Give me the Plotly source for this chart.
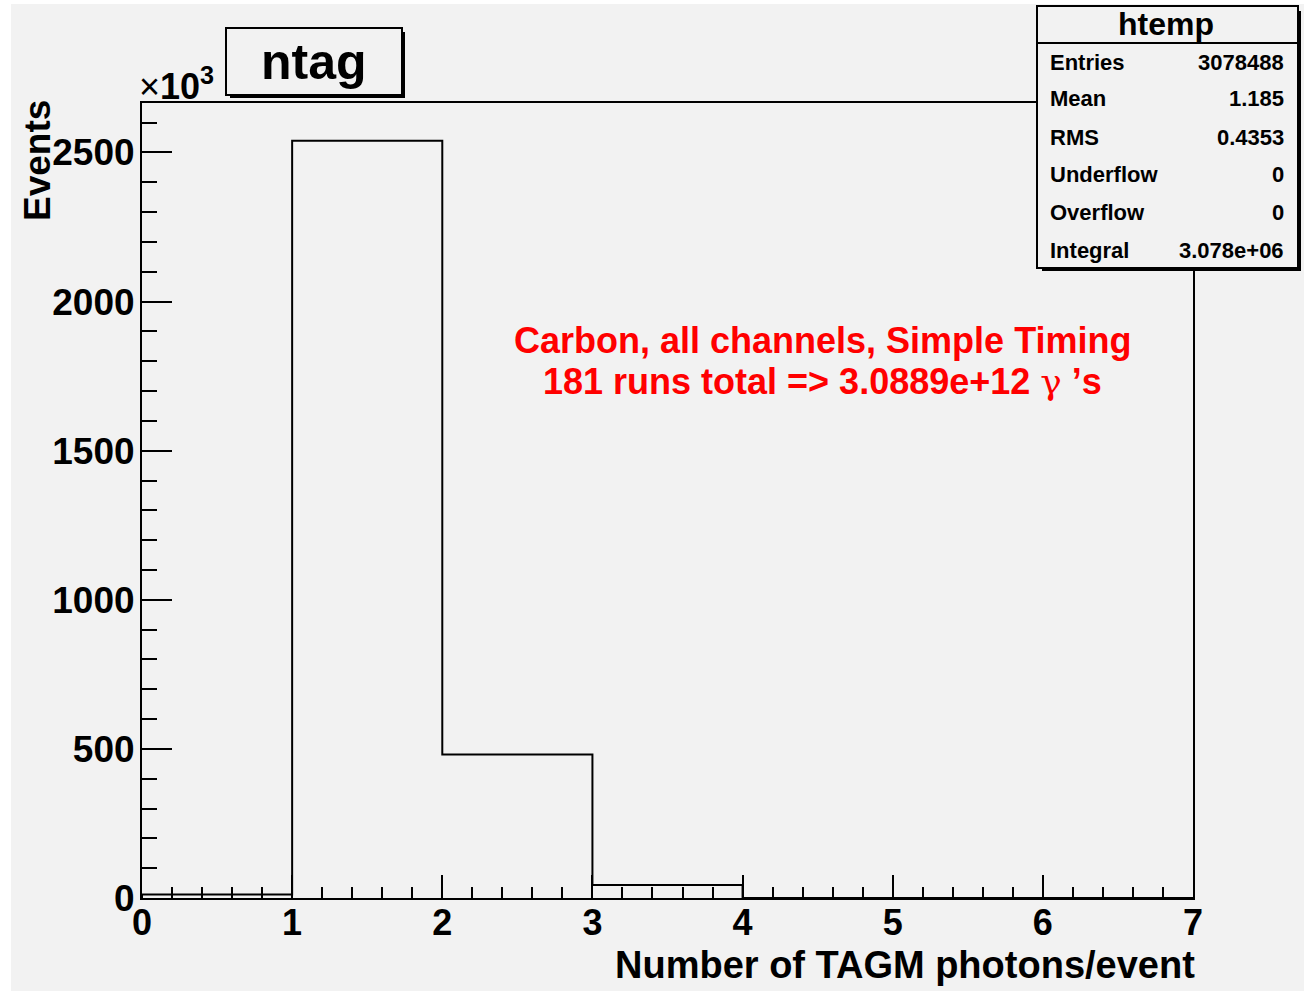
import plotly.graph_objects as go

# ---- data ----
bin_edges = [0, 1, 2, 3, 4, 5, 6, 7]
counts = [12000, 2539000, 481000, 44000, 300, 50, 0]
y_tickvals = [0, 500000, 1000000, 1500000, 2000000, 2500000]
y_ticktext = ["0", "500", "1000", "1500", "2000", "2500"]
x_tickvals = [0, 1, 2, 3, 4, 5, 6, 7]
stats_labels = ["Entries", "Mean", "RMS", "Underflow", "Overflow", "Integral"]
stats_values = ["3078488", "1.185", "0.4353", "0", "0", "3.078e+06"]

W, H = 1304, 992
L, R, T, B = 142, 1193, 103, 898  # plot area in px
PW, PH = R - L, B - T


def px(x):
    return (x - L) / PW


def py(y):
    return (B - y) / PH


FONT = "Liberation Sans, Arial, sans-serif"
BG = "#f2f2f2"

fig = go.Figure()
xs = [bin_edges[0]] + bin_edges
ys = [0] + counts + [counts[-1]]
fig.add_trace(go.Scatter(x=xs, y=ys, mode="lines", line=dict(color="black", width=2, shape="hv"),
                         hoverinfo="skip", showlegend=False))

ymax = 1.05 * max(counts)

shapes = []
# white strips at canvas edges
for x0, y0, x1, y1 in [(0, 0, 11, 992), (0, 0, 1304, 4), (0, 991, 1304, 992)]:
    shapes.append(dict(type="rect", xref="paper", yref="paper", x0=px(x0), x1=px(x1), y0=py(y0), y1=py(y1),
                       fillcolor="white", line=dict(width=0), layer="above"))
# title box (shadow + box)
shapes.append(dict(type="rect", xref="paper", yref="paper", x0=px(230), x1=px(405), y0=py(32), y1=py(98),
                   fillcolor="black", line=dict(width=0), layer="above"))
shapes.append(dict(type="rect", xref="paper", yref="paper", x0=px(226), x1=px(402), y0=py(28), y1=py(95),
                   fillcolor=BG, line=dict(color="black", width=2), layer="above"))
# stats box
shapes.append(dict(type="rect", xref="paper", yref="paper", x0=px(1042), x1=px(1301), y0=py(11), y1=py(271),
                   fillcolor="black", line=dict(width=0), layer="above"))
shapes.append(dict(type="rect", xref="paper", yref="paper", x0=px(1037), x1=px(1298), y0=py(6), y1=py(268),
                   fillcolor=BG, line=dict(color="black", width=2), layer="above"))
shapes.append(dict(type="line", xref="paper", yref="paper", x0=px(1037), x1=px(1298), y0=py(43), y1=py(43),
                   line=dict(color="black", width=2), layer="above"))

ann = []
ann.append(dict(x=px(314), y=py(62), xref="paper", yref="paper", text="<b>ntag</b>", showarrow=False,
                font=dict(family=FONT, size=50, color="black"), xanchor="center", yanchor="middle"))
ann.append(dict(x=px(1166), y=py(24), xref="paper", yref="paper", text="<b>htemp</b>", showarrow=False,
                font=dict(family=FONT, size=32, color="black"), xanchor="center", yanchor="middle"))
row_y = [62, 98, 137, 174, 213, 251]
for lab, val, yy in zip(stats_labels, stats_values, row_y):
    ann.append(dict(x=px(1048), y=py(yy), xref="paper", yref="paper", text="<b>%s</b>" % lab, showarrow=False,
                    font=dict(family=FONT, size=22, color="black"), xanchor="left", yanchor="middle"))
    ann.append(dict(x=px(1286), y=py(yy), xref="paper", yref="paper", text="<b>%s</b>" % val, showarrow=False,
                    font=dict(family=FONT, size=22, color="black"), xanchor="right", yanchor="middle"))
ann.append(dict(x=px(37), y=py(161), xref="paper", yref="paper", text="<b>Events</b>", showarrow=False,
                textangle=-90, font=dict(family=FONT, size=37, color="black"), xanchor="center", yanchor="middle"))
ann.append(dict(x=px(1197), y=py(965), xref="paper", yref="paper", text="<b>Number of TAGM photons/event</b>",
                showarrow=False, font=dict(family=FONT, size=38, color="black"), xanchor="right", yanchor="middle"))
ann.append(dict(x=px(137), y=py(84), xref="paper", yref="paper", text="×<b>10<sup>3</sup></b>", showarrow=False,
                font=dict(family=FONT, size=36, color="black"), xanchor="left", yanchor="middle"))
ann.append(dict(x=px(822), y=py(340), xref="paper", yref="paper", text="<b>Carbon, all channels, Simple Timing</b>",
                showarrow=False, font=dict(family=FONT, size=36, color="#ff0000"), xanchor="center", yanchor="middle"))
ann.append(dict(x=px(822), y=py(381), xref="paper", yref="paper",
                text="<b>181 runs total => 3.0889e+12 </b><span style=\"font-family:'DejaVu Serif',serif\">γ</span><b> ’s</b>",
                showarrow=False, font=dict(family=FONT, size=36, color="#ff0000"), xanchor="center", yanchor="middle"))

fig.update_layout(
    width=W, height=H,
    margin=dict(l=L, r=W - R, t=T, b=H - B, autoexpand=False),
    paper_bgcolor=BG, plot_bgcolor=BG,
    shapes=shapes, annotations=ann, showlegend=False,
    xaxis=dict(range=[0, 7], tickvals=x_tickvals, ticks="inside", ticklen=23, tickwidth=1.5, tickcolor="black",
               showline=True, linecolor="black", linewidth=2, mirror=True, showgrid=False, zeroline=False,
               ticklabelstandoff=-8,
               tickfont=dict(family=FONT, size=36, color="black", weight="bold"),
               minor=dict(dtick=0.2, tick0=0, ticks="inside", ticklen=11, tickwidth=1.5, tickcolor="black",
                          showgrid=False)),
    yaxis=dict(range=[0, ymax], tickvals=y_tickvals, ticktext=y_ticktext, ticks="inside", ticklen=30,
               tickwidth=1.5, tickcolor="black",
               showline=True, linecolor="black", linewidth=2, mirror=True, showgrid=False, zeroline=False,
               ticklabelstandoff=-2,
               tickfont=dict(family=FONT, size=37, color="black", weight="bold"),
               minor=dict(dtick=100000, tick0=0, ticks="inside", ticklen=15, tickwidth=1.5, tickcolor="black",
                          showgrid=False)),
)
fig.write_html("out.html")
